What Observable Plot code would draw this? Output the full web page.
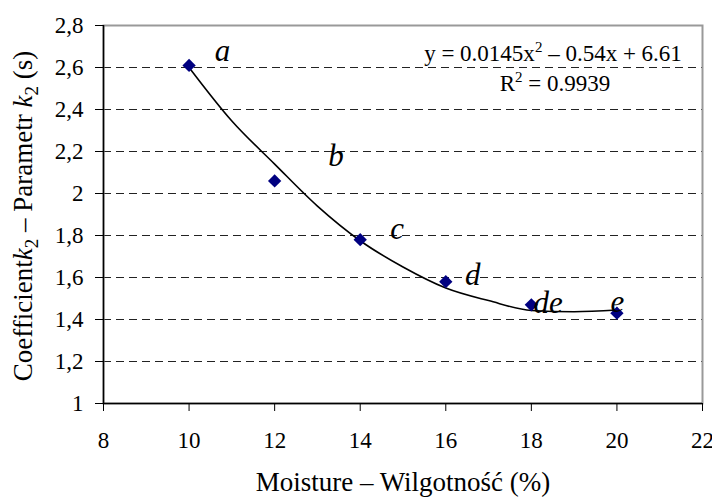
<!DOCTYPE html>
<html>
<head>
<meta charset="utf-8">
<script src="https://cdn.jsdelivr.net/npm/d3@7"></script>
<script src="https://cdn.jsdelivr.net/npm/@observablehq/plot@0.6"></script>
<style>
  html, body { margin: 0; padding: 0; background: #fff; }
  svg, svg text { font-family: "Liberation Serif", "DejaVu Serif", serif !important; }
</style>
</head>
<body>
<div id="chart"></div>
<script>
// Measured samples
const moisture = [10, 12, 14, 16, 18, 20];
const k2 = [2.61, 2.06, 1.78, 1.58, 1.47, 1.43];
const sampleLabels = ["a", "b", "c", "d", "de", "e"];
// label anchor positions (data units)
const labelX = [10.6, 13.25, 14.7, 16.45, 18.05, 19.85];
const labelY = [2.68, 2.18, 1.83, 1.61, 1.48, 1.485];
// trend line as drawn
const trendX = [10, 11, 12, 13, 14, 15, 16, 17, 18, 19, 20];
const trendY = [2.60, 2.345, 2.14, 1.94, 1.775, 1.65, 1.55, 1.49, 1.443, 1.437, 1.445];
const xTicks = [8, 10, 12, 14, 16, 18, 20, 22];
const yTicks = [1, 1.2, 1.4, 1.6, 1.8, 2, 2.2, 2.4, 2.6, 2.8];
const gridY = [1.2, 1.4, 1.6, 1.8, 2, 2.2, 2.4, 2.6];

const points = moisture.map((x, i) => ({x, y: k2[i]}));
const labels = sampleLabels.map((t, i) => ({t, x: labelX[i], y: labelY[i]}));
const trend = trendX.map((x, i) => ({x, y: trendY[i]}));

const fmt = d => String(d).replace(".", ",");
const SERIF = "'Liberation Serif', 'DejaVu Serif', serif";

const plot = Plot.plot({
  width: 712,
  height: 499,
  marginLeft: 103,
  marginRight: 10,
  marginTop: 25,
  marginBottom: 96,
  style: {fontFamily: SERIF, fontSize: "23px", color: "#000", background: "#fff"},
  x: {domain: [8, 22], label: null},
  y: {domain: [1, 2.8], label: null},
  marks: [
    Plot.ruleY(gridY, {stroke: "#222", strokeWidth: 1, strokeDasharray: "8,5"}),
    Plot.frame({stroke: "#999", strokeWidth: 2}),
    Plot.ruleX([8], {stroke: "#000", strokeWidth: 1.5}),
    Plot.ruleY([1], {stroke: "#000", strokeWidth: 1.5}),
    Plot.axisX({ticks: xTicks, tickFormat: d => d, tickSize: 8, tickPadding: 20, fontSize: 23, label: null}),
    Plot.axisY({ticks: yTicks, tickFormat: fmt, tickSize: 8, tickPadding: 12, fontSize: 23, label: null}),
    Plot.line(trend, {x: "x", y: "y", stroke: "#000", strokeWidth: 1.6, curve: "monotone-x"}),
    Plot.dot(points, {x: "x", y: "y", symbol: "diamond2", r: 6, fill: "#000080", stroke: "none"}),
    Plot.text(labels, {x: "x", y: "y", text: "t", textAnchor: "start", fontSize: 31, fontStyle: "italic", fill: "#000"})
  ]
});

document.getElementById("chart").appendChild(plot);

const svg = d3.select(plot);
// Equation and R²
const eq = svg.append("text")
  .attr("x", 553).attr("y", 61)
  .attr("text-anchor", "middle")
  .attr("font-family", SERIF)
  .attr("font-size", 23)
  .attr("fill", "#000");
eq.append("tspan").text("y = 0.0145x");
eq.append("tspan").attr("font-size", 15).attr("dy", -9).text("2");
eq.append("tspan").attr("dy", 9).text(" – 0.54x + 6.61");

const r2 = svg.append("text")
  .attr("x", 555).attr("y", 91)
  .attr("text-anchor", "middle")
  .attr("font-family", SERIF)
  .attr("font-size", 23)
  .attr("fill", "#000");
r2.append("tspan").text("R");
r2.append("tspan").attr("font-size", 15).attr("dy", -9).text("2");
r2.append("tspan").attr("dy", 9).text(" = 0.9939");

// Y axis title
const yt = svg.append("text")
  .attr("transform", "translate(32,216) rotate(-90)")
  .attr("text-anchor", "middle")
  .attr("font-family", SERIF)
  .attr("font-size", 27)
  .attr("fill", "#000");
yt.append("tspan").text("Coefficient");
yt.append("tspan").attr("font-style", "italic").text("k");
yt.append("tspan").attr("font-size", 19).attr("dy", 6).text("2");
yt.append("tspan").attr("dy", -6).text(" – Parametr ");
yt.append("tspan").attr("font-style", "italic").text("k");
yt.append("tspan").attr("font-size", 19).attr("dy", 6).text("2");
yt.append("tspan").attr("dy", -6).text(" (s)");

// X axis title
svg.append("text")
  .attr("x", 403).attr("y", 491)
  .attr("text-anchor", "middle")
  .attr("font-family", SERIF)
  .attr("font-size", 27)
  .attr("fill", "#000")
  .text("Moisture – Wilgotność (%)");
</script>
</body>
</html>
